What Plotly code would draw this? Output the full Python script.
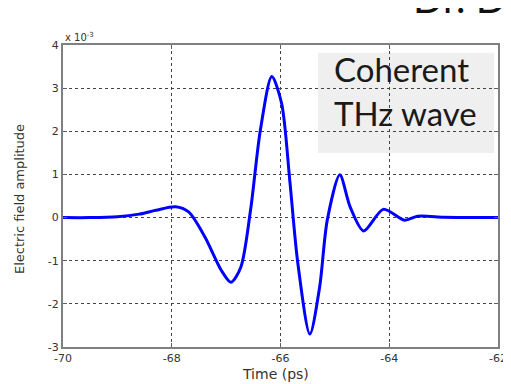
import plotly.graph_objects as go

time_ps = [-70.0, -69.5, -69.0, -68.6, -68.29, -67.93, -67.69, -67.39, -67.09, -66.91,
           -66.73, -66.55, -66.37, -66.16, -65.98, -65.83, -65.68, -65.46, -65.28, -65.14,
           -64.91, -64.72, -64.47, -64.11, -63.72, -63.48, -63.0, -62.5, -62.0]
amplitude_e3 = [0.0, 0.0, 0.02, 0.08, 0.17, 0.25, 0.13, -0.45, -1.22, -1.50,
                -1.15, 0.18, 2.03, 3.27, 2.65, 0.87, -1.07, -2.70, -1.61, -0.06,
                0.99, 0.25, -0.31, 0.19, -0.06, 0.03, 0.01, 0.0, 0.0]
x_ticks = [-70, -68, -66, -64, -62]
y_ticks = [-3, -2, -1, 0, 1, 2, 3, 4]

fig = go.Figure()
fig.add_trace(go.Scatter(x=time_ps, y=amplitude_e3, mode="lines",
                         line=dict(color="#0000ff", width=3, shape="spline", smoothing=0.8),
                         showlegend=False, hoverinfo="skip"))

tick_font = dict(family="DejaVu Sans", size=11, color="#333333")
axis_common = dict(showline=True, linecolor="#808080", linewidth=2, mirror="ticks",
                   ticks="inside", ticklen=4, tickcolor="#606060",
                   showgrid=True, gridcolor="#444444", gridwidth=1, griddash="dot",
                   zeroline=False, tickfont=tick_font, ticklabeloverflow="allow")

fig.update_xaxes(range=[-70, -62], tickvals=x_ticks, ticktext=[str(v) for v in x_ticks], **axis_common)
fig.update_yaxes(range=[-3, 4], tickvals=y_ticks, ticktext=[str(v) for v in y_ticks], **axis_common)

# axis titles
fig.add_annotation(xref="paper", yref="paper", x=0.489, y=-0.09, xanchor="center", yanchor="middle",
                   text="Time (ps)", showarrow=False,
                   font=dict(family="DejaVu Sans", size=14, color="#333333"))
fig.add_annotation(xref="paper", yref="paper", x=-0.101, y=0.49, xanchor="center", yanchor="middle",
                   text="Electric field amplitude", showarrow=False, textangle=-90,
                   font=dict(family="DejaVu Sans", size=13, color="#333333"))

# overlay text box
fig.add_shape(type="rect", xref="paper", yref="paper", x0=0.586, x1=0.991, y0=0.642, y1=0.974,
              fillcolor="#efefef", line=dict(width=0), layer="below")
fig.add_annotation(xref="paper", yref="paper", x=0.618, y=0.919, xanchor="left", yanchor="middle",
                   text="Coherent", showarrow=False,
                   font=dict(family="Lato", size=33, color="#1a1a1a"))
fig.add_annotation(xref="paper", yref="paper", x=0.618, y=0.775, xanchor="left", yanchor="middle",
                   text="THz wave", showarrow=False,
                   font=dict(family="Lato", size=33, color="#1a1a1a"))

# exponent label
fig.add_annotation(xref="paper", yref="paper", x=0.0, y=1.0, xanchor="left", yanchor="bottom",
                   text="x 10<sup>-3</sup>", showarrow=False,
                   font=dict(family="DejaVu Sans", size=10, color="#333333"))

# cropped slide title
fig.add_annotation(xref="paper", yref="paper", x=0.80, y=1.07, xanchor="left", yanchor="bottom",
                   text="Dr. D", showarrow=False,
                   font=dict(family="Lato", size=40, color="#111111"))

fig.update_layout(width=511, height=384, margin=dict(l=55, r=12, t=37, b=45),
                  paper_bgcolor="white", plot_bgcolor="white")
fig.write_html("out.html")
